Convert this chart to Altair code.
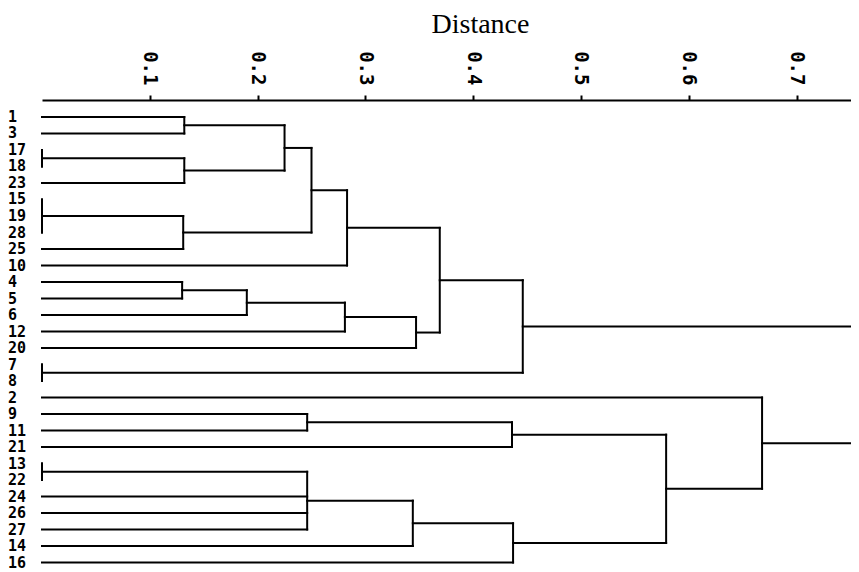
import altair as alt
import pandas as pd

# Leaf order, top to bottom
leaf_labels = ["1", "3", "17", "18", "23", "15", "19", "28", "25", "10",
               "4", "5", "6", "12", "20", "7", "8", "2", "9", "11",
               "21", "13", "22", "24", "26", "27", "14", "16"]

# Merges (agglomeration steps) with their distances
merge_names = ["n1", "n2", "n3", "n4", "n5", "n6", "n7", "n8", "n9", "n10",
               "n11", "n12", "n13", "n14", "n15", "n16", "n17", "n18", "n19",
               "n20", "n21", "n22", "n23", "root"]
merge_children = [
    ["1", "3"], ["17", "18"], ["n2", "23"], ["n1", "n3"],
    ["15", "19", "28"], ["n5", "25"], ["n4", "n6"], ["n7", "10"],
    ["4", "5"], ["n9", "6"], ["n10", "12"], ["n11", "20"],
    ["n8", "n12"], ["7", "8"], ["n13", "n14"],
    ["9", "11"], ["n16", "21"], ["13", "22"], ["n18", "24", "26", "27"],
    ["n19", "14"], ["n20", "16"], ["n17", "n21"], ["2", "n22"],
    ["n15", "n23"],
]
merge_heights = [0.132, 0.0, 0.132, 0.225, 0.0, 0.131, 0.250, 0.283,
                 0.130, 0.190, 0.281, 0.347, 0.369, 0.0, 0.446,
                 0.246, 0.436, 0.0, 0.246, 0.344, 0.437, 0.579, 0.668,
                 0.80]

tick_values = [0.1, 0.2, 0.3, 0.4, 0.5, 0.6, 0.7]
x_max = 0.7505

# Build dendrogram segments from the merge table
pos = {lab: (i, 0.0) for i, lab in enumerate(leaf_labels)}
segs = []
for name, children, h in zip(merge_names, merge_children, merge_heights):
    ys = [pos[c][0] for c in children]
    for c in children:
        cy, ch = pos[c]
        segs.append({"x": ch, "x2": min(h, x_max), "y": cy, "y2": cy})
    if h <= x_max:
        segs.append({"x": h, "x2": h, "y": min(ys), "y2": max(ys)})
    pos[name] = ((min(ys) + max(ys)) / 2.0, h)

seg_df = pd.DataFrame(segs)
leaf_df = pd.DataFrame({"label": leaf_labels, "idx": list(range(len(leaf_labels)))})

x_scale = alt.Scale(domain=[0, x_max], nice=False, zero=False)
y_scale = alt.Scale(domain=[-1.03, 27.09], nice=False, zero=False, reverse=True)

lines = alt.Chart(seg_df).mark_rule(color="black", strokeWidth=2, strokeCap="square").encode(
    x=alt.X("x:Q", scale=x_scale, axis=alt.Axis(
        orient="top", values=tick_values, format=".1f", title="Distance",
        labelFont="DejaVu Sans Mono", labelFontWeight="bold", labelFontSize=19,
        labelAngle=90, labelAlign="right", labelBaseline="middle", labelPadding=10,
        labelColor="black", tickSize=5, tickWidth=2, tickColor="black",
        domainColor="black", domainWidth=2, grid=False,
        titleFont="Liberation Serif", titleFontSize=28, titleFontWeight="normal",
        titleColor="black", titleX=438, titleY=-68, titleAlign="center",
        titleBaseline="alphabetic", labelFlush=False, labelOverlap=False,
    )),
    x2="x2:Q",
    y=alt.Y("y:Q", scale=y_scale, axis=None),
    y2="y2:Q",
)

labels = alt.Chart(leaf_df).mark_text(
    align="left", baseline="middle", font="DejaVu Sans Mono",
    fontWeight="bold", fontSize=15, color="black",
).encode(
    x=alt.value(-34),
    y=alt.Y("idx:Q", scale=y_scale, axis=None),
    text="label:N",
)

chart = alt.layer(lines, labels).properties(
    width=809, height=464,
    autosize=alt.AutoSizeParams(type="none"),
    padding={"left": 34, "top": 92, "right": 0, "bottom": 7},
    background="white",
).configure_view(stroke=None)

chart.save("out.html", embed_options={"renderer": "svg", "actions": False})
